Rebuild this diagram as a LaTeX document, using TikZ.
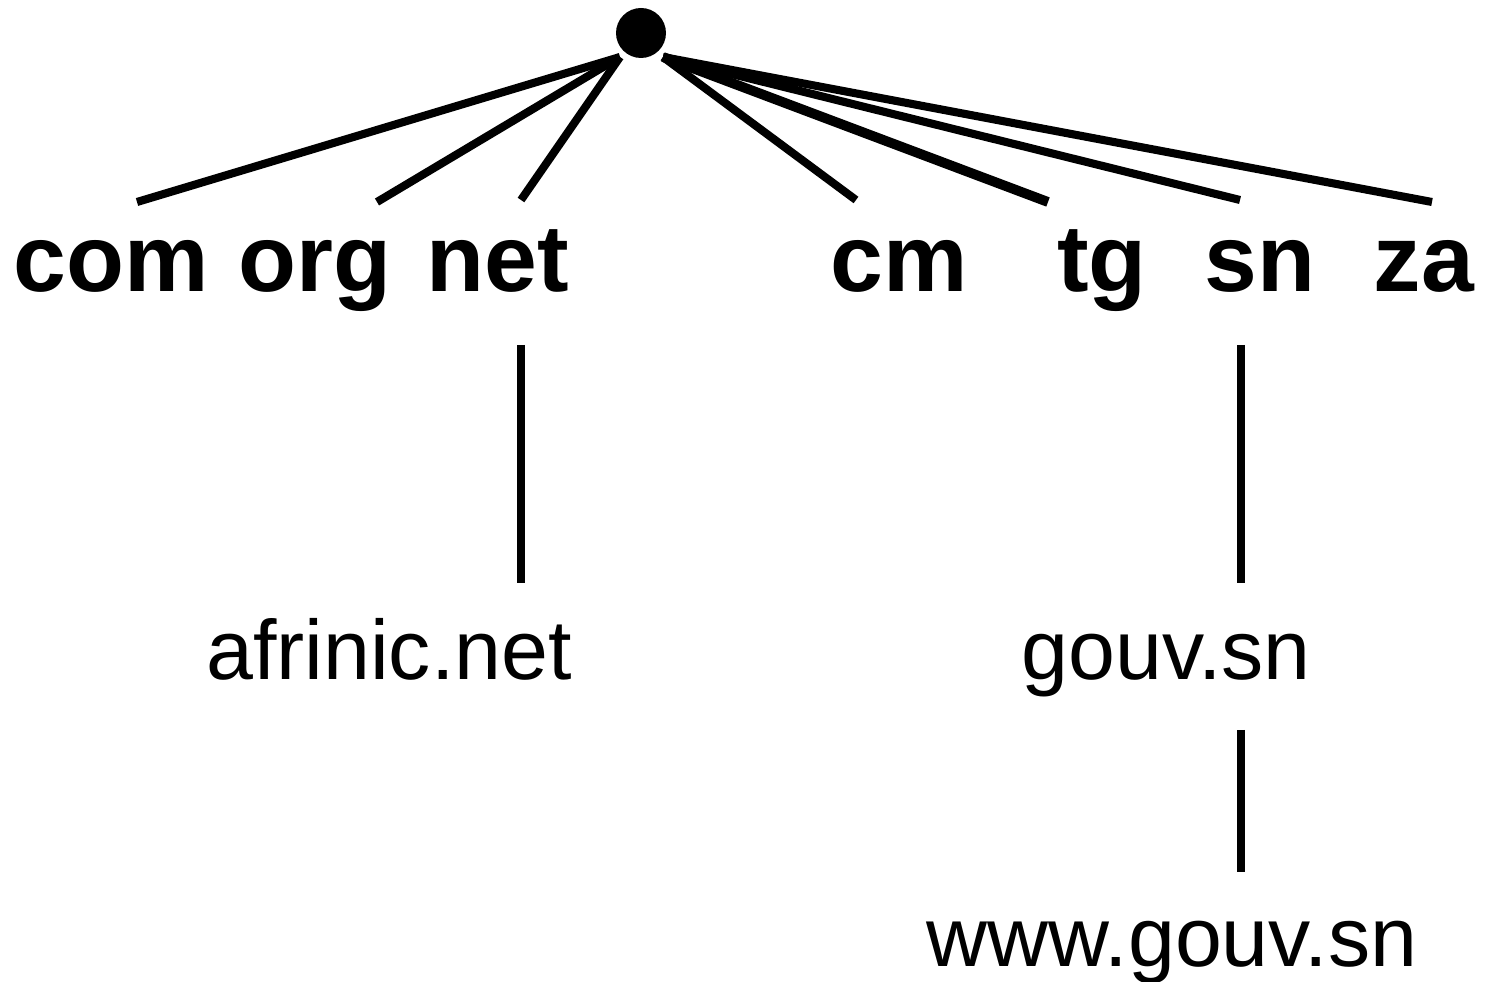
\documentclass[tikz,border=0pt]{standalone}
\usepackage{fontspec}
\setmainfont{Liberation Sans}
\begin{document}
\begin{tikzpicture}[x=0.02cm, y=-0.02cm]
\tikzstyle{TLDStyle}=[
font = \fontsize{54}{60}\selectfont\bfseries,
inner sep = 0pt,
anchor = base]
\tikzstyle{HostStyle}=[
font = \fontsize{48}{56}\selectfont,
inner sep = 0pt,
anchor = base]
\tikzstyle{EdgeStyle}=[line width = 4.6pt]
\useasboundingbox (0,0) rectangle (1492,982);
\node[circle, fill = black, minimum size = 1cm, inner sep = 0pt] (root) at (641,33) {};
\node[TLDStyle] (com) at (111,292) {com};
\node[TLDStyle] (org) at (315,292) {org};
\node[TLDStyle] (net) at (498,292) {net};
\node[TLDStyle] (cm) at (899,292) {cm};
\node[TLDStyle] (tg) at (1102,292) {tg};
\node[TLDStyle] (sn) at (1260,292) {sn};
\node[TLDStyle] (za) at (1424,292) {za};
\node[HostStyle] (afrinic) at (389,680) {afrinic.net};
\node[HostStyle] (gouv) at (1166,680) {gouv.sn};
\node[HostStyle] (www) at (1172,967) {www.gouv.sn};
\coordinate (root-l) at (620,57);
\coordinate (root-r) at (663,57);
\coordinate (e-com) at (137,202);
\coordinate (e-org) at (377,202);
\coordinate (e-net) at (521,200);
\coordinate (e-cm) at (856,200);
\coordinate (e-tg) at (1048,202);
\coordinate (e-sn) at (1240,200);
\coordinate (e-za) at (1432,202);
\coordinate (net-s) at (521,345);
\coordinate (afrinic-n) at (521,583);
\coordinate (sn-s) at (1241,345);
\coordinate (gouv-n) at (1241,583);
\coordinate (gouv-s) at (1241,730);
\coordinate (www-n) at (1241,872);
\draw[EdgeStyle] (root-l) -- (e-com);
\draw[EdgeStyle] (root-l) -- (e-org);
\draw[EdgeStyle] (root-l) -- (e-net);
\draw[EdgeStyle] (root-r) -- (e-cm);
\draw[EdgeStyle, line width = 5.6pt] (root-r) -- (e-tg);
\draw[EdgeStyle] (root-r) -- (e-sn);
\draw[EdgeStyle] (root-r) -- (e-za);
\draw[EdgeStyle] (net-s) -- (afrinic-n);
\draw[EdgeStyle] (sn-s) -- (gouv-n);
\draw[EdgeStyle] (gouv-s) -- (www-n);
\end{tikzpicture}
\end{document}
